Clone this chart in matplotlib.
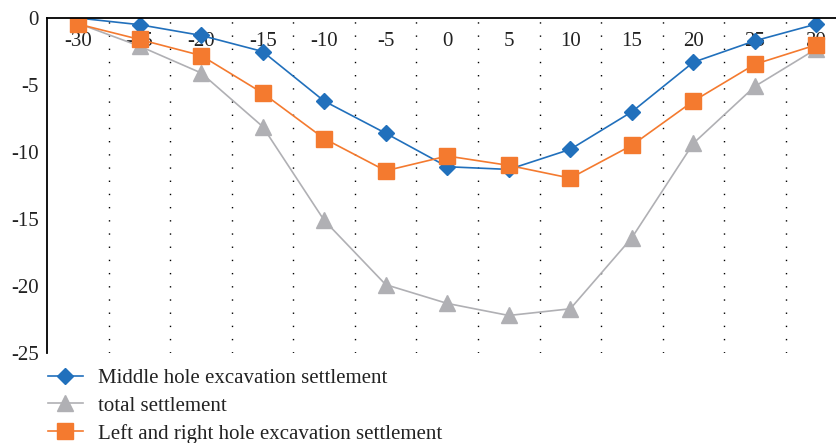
import numpy as np
import matplotlib
matplotlib.use("Agg")
import matplotlib.pyplot as plt

plt.rcParams['font.family'] = ['Liberation Serif', 'DejaVu Serif']

positions = [-30, -25, -20, -15, -10, -5, 0, 5, 10, 15, 20, 25, 30]
middle_hole = [0.0, -0.5, -1.3, -2.5, -6.2, -8.6, -11.1, -11.3, -9.8, -7.0, -3.3, -1.7, -0.45]
total = [-0.4, -2.1, -4.1, -8.1, -15.1, -19.9, -21.3, -22.2, -21.7, -16.4, -9.35, -5.1, -2.3]
left_right = [-0.45, -1.6, -2.8, -5.6, -9.0, -11.4, -10.3, -11.0, -11.95, -9.5, -6.2, -3.45, -2.0]

fig = plt.figure(figsize=(8.36, 4.43), dpi=100)
ax = fig.add_axes([47.25 / 836, 1 - 353 / 443, 800 / 836, 335 / 443])

idx = np.arange(len(positions))
ax.plot(idx, middle_hole, color='#2170BC', lw=1.2, marker='D', ms=8,
        label='Middle hole excavation settlement')
ax.plot(idx, total, color='#B0B0B4', lw=1.2, marker='^', ms=11,
        label='total settlement')
ax.plot(idx, left_right, color='#F47A2F', lw=1.2, marker='s', ms=11,
        label='Left and right hole excavation settlement')

ax.set_xlim(-0.5, len(positions) - 0.5)
ax.set_ylim(-25, 0)
ax.set_yticks([0, -5, -10, -15, -20, -25])
ax.set_yticklabels(['0', '-5', '-10', '-15', '-20', '-25'])

ax.set_xticks(idx)
ax.set_xticklabels([str(p) for p in positions])
ax.set_xticks(idx[:-1] + 0.5, minor=True)
ax.tick_params(axis='x', which='both', top=True, bottom=False, labeltop=True,
               labelbottom=False, length=0, pad=-24, labelsize=15, colors='#222222')
ax.tick_params(axis='y', length=0, pad=6, labelsize=15, colors='#222222')
ax.grid(True, axis='x', which='minor', color='black', lw=1.0, linestyle=(0, (1, 8.5)))
ax.grid(False, axis='x', which='major')

for s in ['right', 'bottom']:
    ax.spines[s].set_visible(False)
ax.spines['left'].set_linewidth(1.3)
ax.spines['top'].set_linewidth(1.3)

ax.legend(loc='upper left', bbox_to_anchor=(-0.01, -0.022), frameon=False, fontsize=15,
          handlelength=1.7, labelspacing=0.38, borderaxespad=0, handletextpad=0.7,
          labelcolor='#222222')

fig.savefig('out.png', dpi=100)
